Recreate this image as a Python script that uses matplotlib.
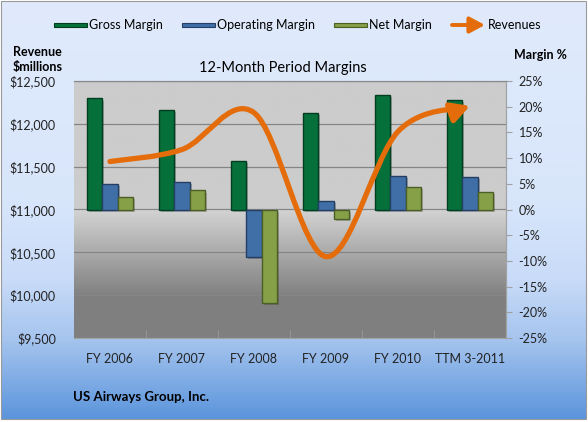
import numpy as np
import matplotlib
matplotlib.use("Agg")
import matplotlib.pyplot as plt
from matplotlib.path import Path
from matplotlib.patches import FancyArrowPatch, Rectangle
from matplotlib import patheffects as pe
from matplotlib.ticker import FuncFormatter

plt.rcParams['font.family'] = ['Lato', 'DejaVu Sans']

# data
periods = ["FY 2006", "FY 2007", "FY 2008", "FY 2009", "FY 2010", "TTM 3-2011"]
gross_margin = [21.6, 19.4, 9.4, 18.7, 22.2, 21.4]
operating_margin = [5.0, 5.4, -9.2, 1.7, 6.6, 6.3]
net_margin = [2.5, 3.7, -18.2, -1.8, 4.3, 3.5]
revenues = [11560, 11700, 12130, 10450, 11910, 12210]

W, H = 588, 422
fig = plt.figure(figsize=(W / 100, H / 100), dpi=100)
fig.patch.set_facecolor('white')


def fx(x):
    return x / W


def fy(y):
    return 1 - y / H


# figure background: light blue fading to a stronger blue at the bottom
bg = fig.add_axes([fx(1), fy(419), fx(585), 418 / H], zorder=-5)
bg.axis('off')
rows = np.arange(420)
stops_y = [0, 200, 280, 340, 420]
stops_c = np.array([(224, 234, 251), (216, 230, 251), (200, 219, 248),
                    (165, 196, 238), (90, 148, 220)]) / 255
grad = np.stack([np.interp(rows, stops_y, stops_c[:, k]) for k in range(3)], axis=1)
bg.imshow(grad[:, None, :], aspect='auto', extent=[0, 1, 0, 1])
bg.set_xlim(0, 1)
bg.set_ylim(0, 1)

rect = [fx(74), fy(338), fx(432), 257 / H]
ax = fig.add_axes(rect)           # margins (right axis)
ax2 = ax.twinx()                   # revenues (left axis)
ax.set_zorder(2)
ax2.set_zorder(1)
ax.patch.set_visible(False)

# plot area fill: flat light gray above 0%, darkening below
frac = np.linspace(0, 1, 300)
shade = np.interp(frac, [0, 0.16, 0.5, 0.501, 1], [0.50, 0.50, 0.83, 0.80, 0.80])
ax2.imshow(np.repeat(shade[:, None, None], 3, axis=2), aspect='auto',
           extent=[0, 1, 0, 1], transform=ax2.transAxes, origin='lower', zorder=0)

x = np.arange(len(periods))
bw = 0.215
bars = [(gross_margin, '#05703a', '#023d1f', -bw),
        (operating_margin, '#3f6fa6', '#243f63', 0),
        (net_margin, '#86a048', '#4c5e26', bw)]
for vals, col, edge, off in bars:
    ax.bar(x + off, vals, width=bw, color=col, edgecolor=edge, linewidth=1.0, zorder=3,
           path_effects=[pe.SimplePatchShadow(offset=(1.5, -1.5), alpha=0.25), pe.Normal()])

ax.set_xlim(-0.5, len(periods) - 0.5)
ax.set_ylim(-25, 25)
ax2.set_ylim(9500, 12500)

# smooth revenue line (bezier through the points) ending in an arrow
pts = np.column_stack([x, revenues]).astype(float)
verts = [pts[0]]
codes = [Path.MOVETO]
for i in range(len(pts) - 1):
    p0 = pts[max(i - 1, 0)]
    p1, p2 = pts[i], pts[i + 1]
    p3 = pts[min(i + 2, len(pts) - 1)]
    verts += [p1 + (p2 - p0) / 6, p2 - (p3 - p1) / 6, p2]
    codes += [Path.CURVE4] * 3
rev_arrow = FancyArrowPatch(path=Path(verts, codes), transform=ax2.transData,
                            arrowstyle='-|>,head_length=0.55,head_width=0.3',
                            mutation_scale=20, color='#e46c0a', lw=3.8,
                            capstyle='round', joinstyle='round', zorder=6)
ax.add_artist(rev_arrow)

# axes styling
ax.yaxis.tick_right()
ax2.yaxis.tick_left()
ax.set_yticks(np.arange(-25, 26, 5))
ax.yaxis.set_major_formatter(FuncFormatter(lambda v, p: f"{v:.0f}%".replace('\u2212', '-')))
ax.tick_params(axis='y', direction='out', length=4, color='#a0a0a0', pad=5,
               labelsize=9, labelcolor='#222222')
ax2.set_yticks(np.arange(9500, 12501, 500))
ax2.yaxis.set_major_formatter(FuncFormatter(lambda v, p: f"${v:,.0f}"))
ax2.tick_params(axis='y', length=0, pad=13, labelsize=9, labelcolor='#222222')
ax2.grid(axis='y', color='#858585', linewidth=0.9)
ax2.set_axisbelow(True)

ax.set_xticks(x)
ax.set_xticklabels(periods)
ax.set_xticks(x[:-1] + 0.5, minor=True)
ax.tick_params(axis='x', which='major', length=0, pad=11, labelsize=9, labelcolor='#222222')
ax.tick_params(axis='x', which='minor', direction='in', length=6, color='#9a9a9a')
ax2.tick_params(axis='x', which='both', length=0)

for a in (ax, ax2):
    for side in ('top', 'right', 'bottom'):
        a.spines[side].set_color('#a3a3a3')
        a.spines[side].set_linewidth(0.8)
    a.spines['left'].set_visible(False)
ax.spines['top'].set_color('#8a8a8a')

# texts
fig.text(fx(283), fy(68), "12-Month Period Margins", ha='center', va='center', fontsize=10.5)
fig.text(fx(13), fy(52), "Revenue", ha='left', va='center', fontsize=9, fontweight='bold')
fig.text(fx(13), fy(67), "$millions", ha='left', va='center', fontsize=9, fontweight='bold')
fig.text(fx(514), fy(55), "Margin %", ha='left', va='center', fontsize=9, fontweight='bold')
fig.text(fx(73), fy(397), "US Airways Group, Inc.", ha='left', va='center', fontsize=9.5,
         fontweight='bold')

# legend drawn by hand along the top
legend_items = [("Gross Margin", '#05703a', '#023d1f', 54),
                ("Operating Margin", '#3f6fa6', '#243f63', 182),
                ("Net Margin", '#86a048', '#4c5e26', 334)]
for label, col, edge, x0 in legend_items:
    fig.patches.append(Rectangle((fx(x0), fy(27)), fx(33), 4 / H, transform=fig.transFigure,
                                 facecolor=col, edgecolor=edge, lw=0.8))
    fig.text(fx(x0 + 35), fy(25), label, ha='left', va='center', fontsize=9)
fig.patches.append(FancyArrowPatch((fx(452), fy(25)), (fx(485), fy(25)), transform=fig.transFigure,
                                   arrowstyle='-|>,head_length=0.75,head_width=0.4',
                                   mutation_scale=12, color='#e46c0a', lw=2.8,
                                   shrinkA=0, shrinkB=0))
fig.text(fx(488), fy(25), "Revenues", ha='left', va='center', fontsize=9)

fig.patches.append(Rectangle((fx(1), fy(419)), fx(585), 418 / H, transform=fig.transFigure,
                             fill=False, edgecolor='#9a9a9a', lw=0.8))

fig.savefig("out.png", dpi=100)
